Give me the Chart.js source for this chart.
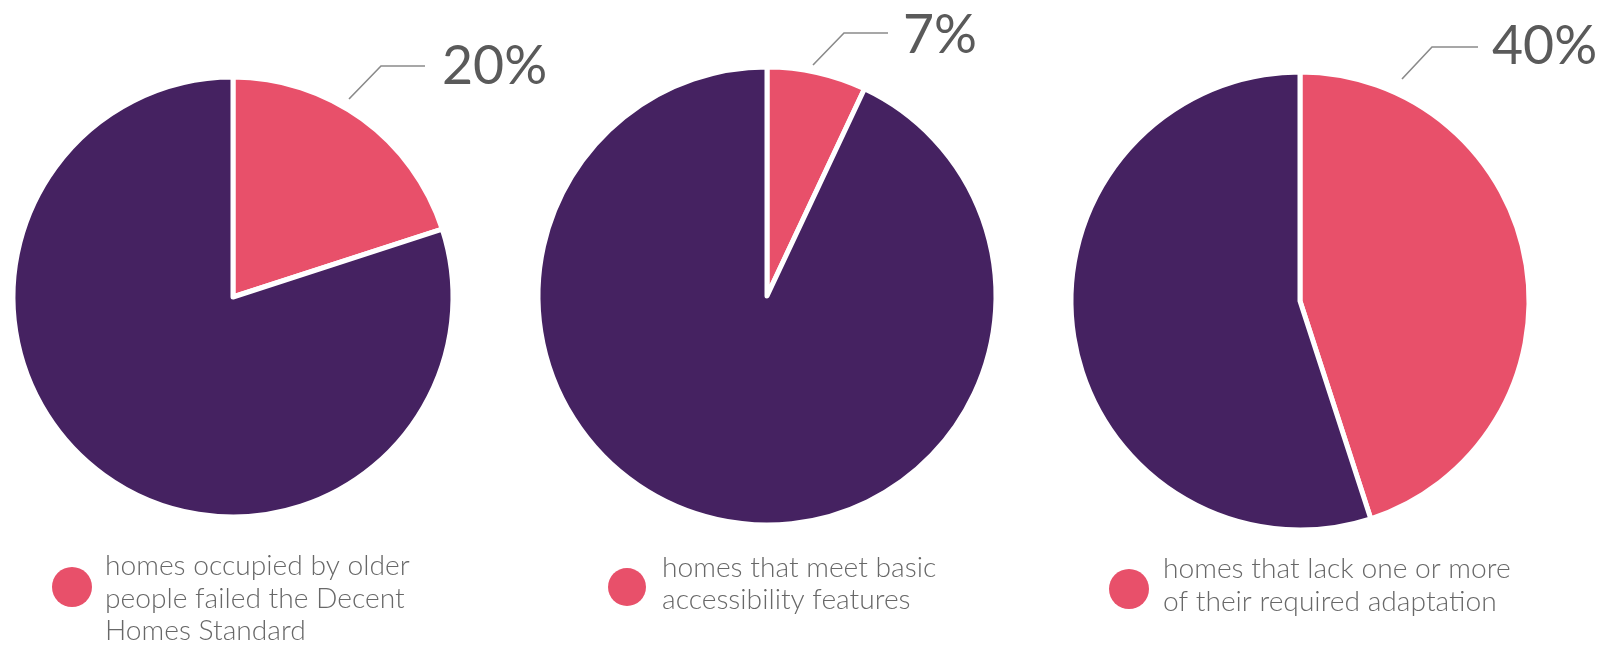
<!DOCTYPE html>
<html><head><meta charset="utf-8">
<script src="https://cdn.jsdelivr.net/npm/chart.js@4.4.1/dist/chart.umd.min.js"></script>
<style>
html,body{margin:0;padding:0;background:#fff;width:1610px;height:649px;overflow:hidden;position:relative}
canvas{position:absolute;left:0;top:0}
</style></head><body>
<canvas id="c0" width="1610" height="649"></canvas>
<canvas id="c1" width="1610" height="649"></canvas>
<canvas id="c2" width="1610" height="649"></canvas>
<script>
// ---- data ----
const sliceLabels = ['Share of homes', 'Other homes'];
const redValues = [20, 7, 45];
const otherValues = [80, 93, 55];
const percentLabels = ['20%', '7%', '40%'];
const legendLines = [
  ['homes occupied by older', 'people failed the Decent', 'Homes Standard'],
  ['homes that meet basic', 'accessibility features'],
  ['homes that lack one or more', 'of their required adaptation']
];

// ---- layout / style ----
const RED = '#E8506A';
const PURPLE = '#452261';
const PCT_TEXT = '#5a5a5a';
const LEG_TEXT = '#686868';
const LINE = '#8a8a8a';
const FONT = 'Lato, "Open Sans", sans-serif';
const layouts = [
  {cx:233, cy:297, r:218, leader:[[116,-198],[148,-231],[192,-231]], pct:[442,84], pctW:100, dot:[72,587,20], text:[105,575], lh:32.5, lineW:305},
  {cx:767, cy:296, r:227, leader:[[46,-231],[77,-263],[121,-263]], pct:[903,53], pctW:65, dot:[627,587,19], text:[662,577], lh:31.5, lineW:274},
  {cx:1300, cy:301, r:227, leader:[[102,-222],[132,-254],[178,-254]], pct:[1492,64], pctW:105, dot:[1129,589,20], text:[1163,578], lh:33, lineW:347}
];

function fitSize(ctx, texts, widths, base, weight) {
  let sum = 0;
  texts.forEach((t, i) => { ctx.font = weight + ' ' + base + 'px ' + FONT; sum += widths[i] / ctx.measureText(t).width; });
  return base * sum / texts.length;
}

const annotate = {
  id: 'annotate',
  afterDraw(chart) {
    const i = chart.options.plugins.annotate.index;
    const L = layouts[i];
    const ctx = chart.ctx;
    const arc = chart.getDatasetMeta(0).data[0];
    const cx = arc.x, cy = arc.y;
    ctx.save();
    // leader line
    ctx.strokeStyle = LINE; ctx.lineWidth = 1.6;
    ctx.beginPath();
    L.leader.forEach((p, k) => { const x = cx + p[0], y = cy + p[1]; k ? ctx.lineTo(x, y) : ctx.moveTo(x, y); });
    ctx.stroke();
    // percentage
    ctx.fillStyle = PCT_TEXT;
    ctx.textBaseline = 'alphabetic'; ctx.textAlign = 'left';
    ctx.font = '400 ' + pctSize.toFixed(1) + 'px ' + FONT;
    ctx.fillText(percentLabels[i], L.pct[0], L.pct[1]);
    // legend dot
    ctx.fillStyle = RED;
    ctx.beginPath(); ctx.arc(L.dot[0], L.dot[1], L.dot[2], 0, Math.PI * 2); ctx.fill();
    // legend text
    ctx.fillStyle = LEG_TEXT;
    ctx.font = '300 ' + legSize.toFixed(1) + 'px ' + FONT;
    legendLines[i].forEach((t, k) => ctx.fillText(t, L.text[0], L.text[1] + k * L.lh));
    ctx.restore();
  }
};

let pctSize = 52, legSize = 27;

function build() {
  const mctx = document.getElementById('c0').getContext('2d');
  pctSize = fitSize(mctx, percentLabels, layouts.map(l => l.pctW), 52, '400') * 1.06;
  legSize = fitSize(mctx, legendLines.map(l => l[0]), layouts.map(l => l.lineW), 27, '300');
  layouts.forEach((L, i) => {
    new Chart(document.getElementById('c' + i), {
      type: 'pie',
      data: {
        labels: sliceLabels,
        datasets: [{
          data: [redValues[i], otherValues[i]],
          backgroundColor: [RED, PURPLE],
          borderColor: '#ffffff',
          borderWidth: 5,
          borderJoinStyle: 'round',
          clip: false
        }]
      },
      options: {
        responsive: false,
        animation: false,
        devicePixelRatio: 1,
        radius: L.r + 2,
        layout: { padding: { left: L.cx - 150, right: 1610 - L.cx - 150, top: L.cy - 150, bottom: 649 - L.cy - 150 } },
        plugins: { legend: { display: false }, tooltip: { enabled: false }, annotate: { index: i } },
        events: []
      },
      plugins: [annotate]
    });
  });
}
if (document.fonts && document.fonts.load) {
  Promise.all([document.fonts.load('400 52px Lato'), document.fonts.load('300 27px Lato')]).then(build, build);
} else build();
</script>
</body></html>
